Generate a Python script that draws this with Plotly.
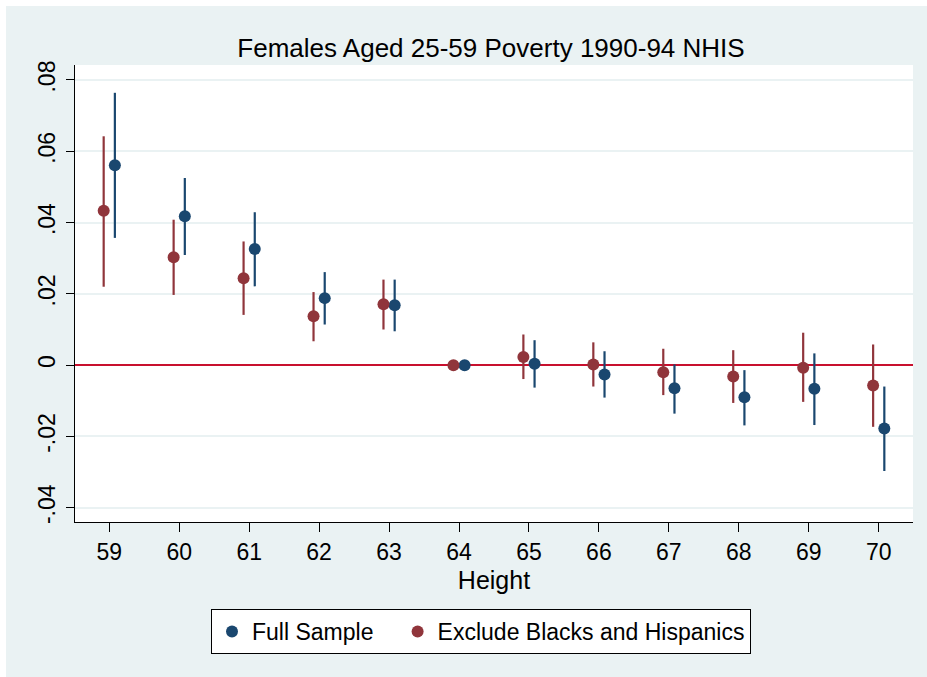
import plotly.graph_objects as go

heights = [59, 60, 61, 62, 63, 64, 65, 66, 67, 68, 69, 70]

full_est = [0.0561, 0.0418, 0.0326, 0.0188, 0.0168, 0.0, 0.0004, -0.0026, -0.0065, -0.0090, -0.0066, -0.0178]
full_lo = [0.0357, 0.0309, 0.0221, 0.0114, 0.0095, 0.0, -0.0063, -0.0091, -0.0136, -0.0169, -0.0168, -0.0297]
full_hi = [0.0764, 0.0525, 0.0429, 0.0261, 0.0240, 0.0, 0.0070, 0.0039, 0.0002, -0.0014, 0.0033, -0.0060]

excl_est = [0.0433, 0.0303, 0.0244, 0.0137, 0.0171, 0.0, 0.0023, 0.0002, -0.0020, -0.0032, -0.0007, -0.0057]
excl_lo = [0.0220, 0.0197, 0.0141, 0.0067, 0.0100, 0.0, -0.0039, -0.0060, -0.0084, -0.0106, -0.0103, -0.0173]
excl_hi = [0.0642, 0.0408, 0.0347, 0.0205, 0.0240, 0.0, 0.0086, 0.0064, 0.0046, 0.0042, 0.0091, 0.0058]

y_ticks = [-0.04, -0.02, 0, 0.02, 0.04, 0.06, 0.08]
y_tick_labels = ["-.04", "-.02", "0", ".02", ".04", ".06", ".08"]

BLUE = "#1a476f"
RED = "#90353b"
BG = "#eaf2f3"
FONT = "Liberation Sans, Arial, sans-serif"
OFFSET = 0.08

W, H = 927, 677
ML, MR, MT, MB = 75, 14, 65, 155
PW = W - ML - MR
PH = H - MT - MB
EDGE = 6  # white border at top and left of the graph


def px_x(p):
    return (p - ML) / PW


def px_y(p):
    return (H - MB - p) / PH


fig = go.Figure()

fig.add_trace(go.Scatter(
    x=[h + OFFSET for h in heights], y=full_est,
    mode="markers", name="Full Sample\u00a0\u00a0\u00a0",
    marker=dict(color=BLUE, size=12),
    error_y=dict(type="data", symmetric=False,
                 array=[hi - e for hi, e in zip(full_hi, full_est)],
                 arrayminus=[e - lo for e, lo in zip(full_est, full_lo)],
                 color=BLUE, thickness=2.2, width=0),
))
fig.add_trace(go.Scatter(
    x=[h - OFFSET for h in heights], y=excl_est,
    mode="markers", name="Exclude Blacks and Hispanics",
    marker=dict(color=RED, size=12),
    error_y=dict(type="data", symmetric=False,
                 array=[hi - e for hi, e in zip(excl_hi, excl_est)],
                 arrayminus=[e - lo for e, lo in zip(excl_est, excl_lo)],
                 color=RED, thickness=2.2, width=0),
))

shapes = [
    dict(type="rect", xref="paper", yref="paper", x0=px_x(0), x1=px_x(W),
         y0=px_y(EDGE), y1=px_y(0), fillcolor="white", line_width=0, layer="below"),
    dict(type="rect", xref="paper", yref="paper", x0=px_x(0), x1=px_x(EDGE),
         y0=px_y(H), y1=px_y(0), fillcolor="white", line_width=0, layer="below"),
]

fig.update_layout(
    width=W, height=H,
    margin=dict(l=ML, r=MR, t=MT, b=MB),
    paper_bgcolor=BG, plot_bgcolor="white",
    font=dict(family=FONT, color="black", size=23),
    title=dict(text="Females Aged 25-59 Poverty 1990-94 NHIS",
               font=dict(size=26, family=FONT, color="black"),
               x=px_x(491), xref="paper", xanchor="center",
               y=1 - 57 / H, yref="container", yanchor="bottom"),
    showlegend=True,
    legend=dict(orientation="h", x=px_x(211), xanchor="left",
                y=px_y(609), yanchor="top",
                bgcolor="white", bordercolor="black", borderwidth=1,
                font=dict(size=23, family=FONT, color="black")),
    shapes=shapes,
    xaxis=dict(range=[58.51, 70.49], tickvals=heights,
               ticktext=[str(h) for h in heights],
               showgrid=False, zeroline=False,
               showline=True, linecolor="black", linewidth=1,
               ticks="outside", ticklen=9, tickcolor="black", tickwidth=1,
               tickfont=dict(size=23),
               title=dict(text="Height", font=dict(size=25), standoff=7)),
    yaxis=dict(range=[-0.0440, 0.0842], tickvals=y_ticks, ticktext=y_tick_labels,
               showgrid=True, gridcolor=BG, gridwidth=2,
               zeroline=True, zerolinecolor="#c8102e", zerolinewidth=2,
               showline=True, linecolor="black", linewidth=1,
               ticks="outside", ticklen=8, tickcolor="black", tickwidth=1,
               ticklabelstandoff=2,
               tickangle=-90, tickfont=dict(size=23)),
)

fig.write_html(
    "out.html",
    config={"displayModeBar": False},
    post_script=(
        "document.documentElement.style.overflow='hidden';"
        "document.body.style.margin='0';"
        "document.body.style.overflow='hidden';"
    ),
)
